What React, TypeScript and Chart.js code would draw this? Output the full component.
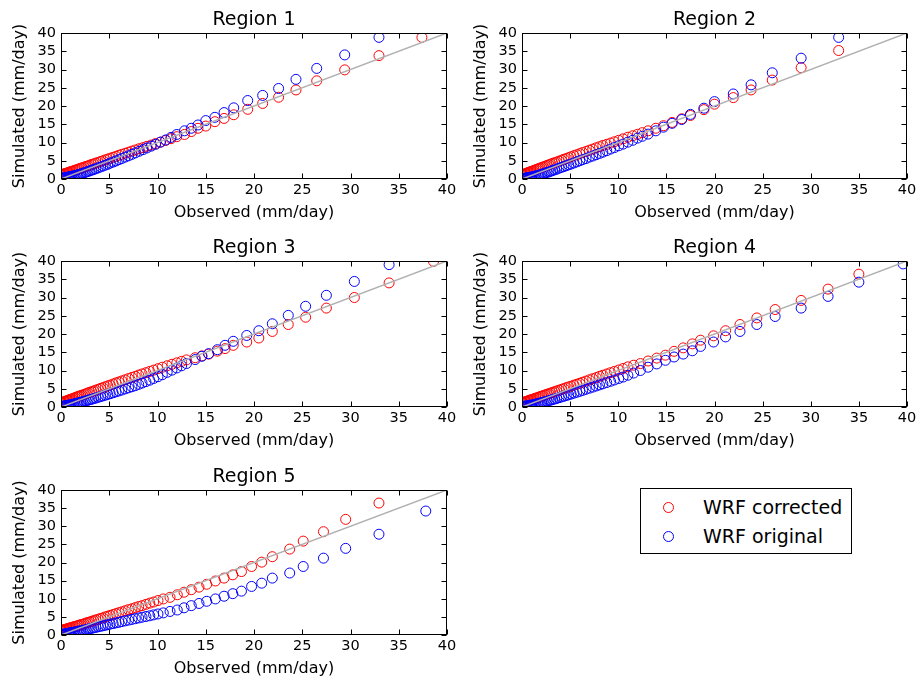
import React, { useEffect, useRef } from "react";
import { Chart, registerables } from "chart.js";

Chart.register(...registerables);

const FONT = "'DejaVu Sans', 'Liberation Sans', sans-serif";

// ---------- data ----------
const axisMin = 0;
const axisMax = 40;
const tickStep = 5;
const refLineX = [0, 40];
const refLineY = [0, 40];

const seriesLabels = ["WRF corrected", "WRF original"];
const regionTitles = ["Region 1", "Region 2", "Region 3", "Region 4", "Region 5"];

// observed quantiles shared by the low (dense) part of regions 2-5
const lowObs = [0, 0.05, 0.1, 0.2, 0.3, 0.4, 0.5, 0.6, 0.7, 0.8, 0.9, 1.0, 1.15, 1.3, 1.45, 1.6, 1.75, 1.9, 2.05, 2.2, 2.4, 2.6, 2.8, 3.0, 3.2, 3.4, 3.6, 3.85, 4.1, 4.35, 4.6, 4.85, 5.1, 5.4, 5.7, 6.0, 6.3, 6.65, 7.0, 7.35, 7.7];

// Region 1
const r1Obs = [0, 0.05, 0.1, 0.2, 0.3, 0.4, 0.5, 0.6, 0.7, 0.8, 0.9, 1.0, 1.15, 1.3, 1.45, 1.6, 1.75, 1.9, 2.05, 2.2, 2.4, 2.6, 2.8, 3.0, 3.2, 3.4, 3.6, 3.85, 4.1, 4.35, 4.6, 4.85, 5.1, 5.4, 5.7, 6.0, 6.3, 6.65, 7.0, 7.35, 7.7, 8.1, 8.5, 8.9, 9.35, 9.8, 10.3, 10.85, 11.4, 12.0, 12.8, 13.5, 14.2, 15.0, 15.95, 16.9, 17.9, 19.35, 20.9, 22.55, 24.35, 26.5, 29.4, 32.95, 37.4];
const r1Corrected = [1.1, 1.15, 1.2, 1.3, 1.35, 1.45, 1.55, 1.6, 1.7, 1.8, 1.9, 2.0, 2.1, 2.25, 2.4, 2.5, 2.65, 2.8, 2.95, 3.05, 3.25, 3.45, 3.6, 3.8, 4.0, 4.15, 4.35, 4.55, 4.8, 5.0, 5.25, 5.45, 5.7, 5.95, 6.2, 6.5, 6.75, 7.05, 7.35, 7.65, 7.95, 8.3, 8.6, 8.95, 9.3, 9.7, 10.1, 10.55, 11.05, 11.6, 12.2, 13.0, 13.9, 14.5, 15.7, 16.6, 17.6, 19.1, 20.7, 22.4, 24.4, 26.9, 29.9, 33.8, 38.8];
const r1Original = [0.1, 0.15, 0.2, 0.25, 0.3, 0.35, 0.4, 0.45, 0.5, 0.55, 0.6, 0.65, 0.75, 0.85, 0.95, 1.05, 1.15, 1.3, 1.4, 1.55, 1.7, 1.9, 2.05, 2.25, 2.45, 2.6, 2.8, 3.05, 3.3, 3.55, 3.8, 4.05, 4.35, 4.65, 4.95, 5.3, 5.6, 6.0, 6.35, 6.75, 7.15, 7.6, 8.05, 8.5, 9.0, 9.5, 10.1, 10.7, 11.4, 12.2, 13.2, 13.9, 14.8, 16.0, 16.9, 18.2, 19.5, 21.5, 22.9, 24.8, 27.3, 30.3, 34.0, 38.8, null];

// Region 2
const r2Obs = [...lowObs, 8.05, 8.4, 8.8, 9.2, 9.6, 10.05, 10.5, 11.0, 11.5, 12.0, 12.5, 13.1, 13.9, 14.7, 15.6, 16.6, 17.5, 18.9, 20.0, 21.95, 23.8, 26.0, 29.0, 32.9];
const r2Corrected = [1.1, 1.15, 1.2, 1.3, 1.4, 1.5, 1.6, 1.7, 1.8, 1.9, 2.0, 2.1, 2.25, 2.4, 2.55, 2.7, 2.85, 3.0, 3.15, 3.3, 3.5, 3.7, 3.9, 4.1, 4.3, 4.45, 4.65, 4.9, 5.15, 5.4, 5.6, 5.85, 6.1, 6.4, 6.65, 6.95, 7.25, 7.55, 7.9, 8.2, 8.55, 8.85, 9.2, 9.5, 9.85, 10.2, 10.6, 11.0, 11.45, 11.85, 12.25, 12.7, 13.2, 13.9, 14.6, 15.5, 16.5, 17.4, 19.0, 20.5, 22.3, 24.4, 27.1, 30.5, 35.2];
const r2Original = [0.0, 0.05, 0.1, 0.15, 0.2, 0.25, 0.3, 0.35, 0.4, 0.45, 0.5, 0.55, 0.65, 0.75, 0.85, 0.95, 1.05, 1.2, 1.3, 1.45, 1.6, 1.8, 1.95, 2.15, 2.35, 2.5, 2.7, 2.95, 3.2, 3.4, 3.65, 3.9, 4.1, 4.4, 4.7, 5.0, 5.3, 5.6, 6.0, 6.3, 6.65, 7.0, 7.35, 7.75, 8.2, 8.6, 9.1, 9.55, 10.1, 10.6, 11.2, 11.7, 12.3, 13.2, 14.2, 15.25, 16.3, 17.7, 19.4, 21.2, 23.3, 25.8, 29.1, 33.1, 38.8];

// Region 3
const r3Obs = [...lowObs, 8.05, 8.4, 8.8, 9.2, 9.6, 10.05, 10.5, 11.0, 11.5, 12.0, 12.5, 13.0, 13.9, 14.6, 15.3, 16.2, 17.0, 17.85, 19.25, 20.5, 21.9, 23.55, 25.35, 27.5, 30.4, 34.0, 38.6];
const r3Corrected = [1.1, 1.15, 1.2, 1.3, 1.4, 1.5, 1.6, 1.7, 1.8, 1.9, 2.0, 2.1, 2.25, 2.4, 2.55, 2.7, 2.85, 3.0, 3.1, 3.25, 3.45, 3.65, 3.85, 4.05, 4.2, 4.4, 4.6, 4.85, 5.1, 5.3, 5.55, 5.8, 6.0, 6.3, 6.6, 6.85, 7.15, 7.45, 7.8, 8.1, 8.4, 8.75, 9.05, 9.4, 9.75, 10.1, 10.5, 10.9, 11.3, 11.7, 12.1, 12.5, 12.9, 13.5, 14.0, 14.5, 15.3, 16.0, 16.9, 17.8, 18.9, 20.7, 22.6, 24.6, 27.1, 30.0, 34.0, 39.9];
const r3Original = [0.1, 0.1, 0.15, 0.2, 0.25, 0.3, 0.35, 0.4, 0.45, 0.5, 0.55, 0.6, 0.7, 0.8, 0.9, 1.0, 1.1, 1.2, 1.3, 1.4, 1.55, 1.7, 1.85, 2.0, 2.15, 2.3, 2.45, 2.65, 2.85, 3.05, 3.25, 3.45, 3.65, 3.9, 4.15, 4.4, 4.65, 4.95, 5.25, 5.55, 5.85, 6.2, 6.55, 6.95, 7.35, 7.8, 8.3, 8.85, 9.5, 10.1, 10.7, 11.3, 11.9, 13.0, 13.9, 14.6, 15.7, 16.9, 18.0, 19.6, 20.9, 22.8, 25.1, 27.6, 30.6, 34.4, 39.0, null];

// Region 4
const r4Obs = [...lowObs, 8.05, 8.4, 8.8, 9.2, 9.6, 10.05, 10.5, 11.0, 11.6, 12.3, 13.1, 14.0, 14.9, 15.8, 16.75, 17.7, 18.55, 19.9, 21.15, 22.65, 24.4, 26.3, 29.0, 31.8, 35.0, 39.6];
const r4Corrected = [1.1, 1.15, 1.2, 1.3, 1.4, 1.45, 1.55, 1.65, 1.75, 1.85, 1.95, 2.0, 2.15, 2.3, 2.45, 2.55, 2.7, 2.85, 3.0, 3.1, 3.3, 3.5, 3.65, 3.85, 4.0, 4.2, 4.4, 4.6, 4.85, 5.05, 5.3, 5.5, 5.7, 6.0, 6.25, 6.5, 6.8, 7.1, 7.45, 7.75, 8.05, 8.4, 8.7, 9.05, 9.4, 9.75, 10.15, 10.55, 11.0, 11.45, 11.9, 12.6, 13.4, 14.2, 15.25, 16.2, 17.3, 18.3, 19.5, 20.9, 22.6, 24.4, 26.7, 29.2, 32.3, 36.4, null];
const r4Original = [0.1, 0.1, 0.15, 0.2, 0.2, 0.25, 0.3, 0.35, 0.4, 0.45, 0.5, 0.55, 0.6, 0.7, 0.8, 0.9, 1.0, 1.1, 1.2, 1.3, 1.45, 1.6, 1.75, 1.9, 2.05, 2.2, 2.35, 2.55, 2.75, 2.95, 3.15, 3.35, 3.55, 3.8, 4.05, 4.3, 4.55, 4.85, 5.15, 5.45, 5.75, 6.05, 6.35, 6.7, 7.05, 7.4, 7.8, 8.2, 8.7, 9.3, 10.0, 10.9, 11.8, 12.8, 13.7, 14.5, 15.4, 16.6, 17.8, 19.2, 20.7, 22.6, 24.8, 27.1, 30.3, 34.2, 39.2];

// Region 5
const r5Obs = [...lowObs, 8.05, 8.4, 8.8, 9.2, 9.6, 10.05, 10.6, 11.3, 12.05, 12.75, 13.5, 14.3, 15.1, 16.0, 16.9, 17.8, 18.7, 19.75, 20.8, 21.9, 23.7, 25.1, 27.2, 29.5, 32.95, 37.8];
const r5Corrected = [1.2, 1.25, 1.3, 1.35, 1.45, 1.5, 1.6, 1.65, 1.75, 1.85, 1.9, 2.0, 2.1, 2.25, 2.35, 2.45, 2.6, 2.7, 2.85, 2.95, 3.1, 3.3, 3.45, 3.6, 3.8, 3.95, 4.15, 4.35, 4.55, 4.75, 5.0, 5.2, 5.4, 5.65, 5.9, 6.15, 6.4, 6.7, 7.0, 7.25, 7.55, 7.85, 8.1, 8.45, 8.8, 9.1, 9.5, 9.95, 10.4, 11.1, 11.8, 12.5, 13.2, 14.0, 14.9, 15.7, 16.6, 17.5, 18.9, 20.1, 21.6, 23.7, 25.9, 28.5, 31.9, 36.4, null];
const r5Original = [0.1, 0.1, 0.15, 0.2, 0.25, 0.3, 0.35, 0.4, 0.45, 0.5, 0.55, 0.6, 0.7, 0.75, 0.85, 0.9, 1.0, 1.1, 1.15, 1.25, 1.35, 1.5, 1.6, 1.75, 1.85, 2.0, 2.1, 2.25, 2.4, 2.55, 2.7, 2.85, 3.0, 3.15, 3.35, 3.5, 3.7, 3.9, 4.1, 4.3, 4.5, 4.7, 4.9, 5.1, 5.3, 5.55, 5.8, 6.1, 6.5, 6.9, 7.5, 8.1, 8.7, 9.3, 9.95, 10.7, 11.4, 12.1, 13.4, 14.3, 15.7, 17.1, 18.9, 21.2, 23.9, 27.8, 34.2];

const regionObs = [r1Obs, r2Obs, r3Obs, r4Obs, r5Obs];
const regionCorrected = [r1Corrected, r2Corrected, r3Corrected, r4Corrected, r5Corrected];
const regionOriginal = [r1Original, r2Original, r3Original, r4Original, r5Original];

// ---------- styles / layout ----------
const RED = "#ff0000";
const BLUE = "#0000ff";
const GREY = "#b0b0b0";
const MARKER_R = 5;

const panels = [
  { left: 0, top: 0, padTop: 33, padRight: 14 },
  { left: 461, top: 0, padTop: 33, padRight: 15 },
  { left: 0, top: 228, padTop: 33, padRight: 14 },
  { left: 461, top: 228, padTop: 33, padRight: 15 },
  { left: 0, top: 456, padTop: 34, padRight: 14 },
];

const framePlugin = {
  id: "frameTicks",
  afterDraw(chart: any, _args: any, opts: any) {
    const { ctx, chartArea: a, scales } = chart;
    ctx.save();
    ctx.strokeStyle = "#000";
    ctx.lineWidth = 1;
    const L = Math.round(a.left) + 0.5;
    const T = Math.round(a.top) + 0.5;
    const R = Math.round(a.right) - 0.5;
    const B = Math.round(a.bottom) - 0.5;
    ctx.beginPath();
    const tl = 5;
    scales.x.ticks.forEach((t: any) => {
      const px = Math.round(scales.x.getPixelForValue(t.value)) + 0.5;
      ctx.moveTo(px, B);
      ctx.lineTo(px, B - tl);
      ctx.moveTo(px, T);
      ctx.lineTo(px, T + tl);
    });
    scales.y.ticks.forEach((t: any) => {
      const py = Math.round(scales.y.getPixelForValue(t.value)) + 0.5;
      ctx.moveTo(L, py);
      ctx.lineTo(L + tl, py);
      ctx.moveTo(R, py);
      ctx.lineTo(R - tl, py);
    });
    ctx.stroke();
    ctx.strokeRect(L, T, R - L, B - T);
    ctx.fillStyle = "#000";
    ctx.font = `19px ${FONT}`;
    ctx.textAlign = "center";
    ctx.textBaseline = "alphabetic";
    ctx.fillText(opts.title || "", (a.left + a.right) / 2, a.top - 8);
    ctx.restore();
  },
};

function Panel({ idx }: { idx: number }) {
  const ref = useRef<HTMLCanvasElement | null>(null);
  const p = panels[idx];
  useEffect(() => {
    if (!ref.current) return;
    const obs = regionObs[idx];
    const corr = regionCorrected[idx];
    const orig = regionOriginal[idx];
    const toPts = (ys: (number | null)[]) =>
      obs.map((x, i) => ({ x, y: ys[i] })).filter((d) => d.y !== null && d.y !== undefined);
    const chart = new Chart(ref.current, {
      type: "scatter",
      data: {
        datasets: [
          {
            type: "line",
            label: "1:1",
            data: refLineX.map((x, i) => ({ x, y: refLineY[i] })),
            borderColor: GREY,
            borderWidth: 1.5,
            pointRadius: 0,
            fill: false,
            clip: 0,
          } as any,
          {
            label: seriesLabels[1],
            data: toPts(orig),
            pointStyle: "circle",
            pointRadius: MARKER_R,
            pointBorderWidth: 1,
            borderColor: BLUE,
            backgroundColor: "rgba(0,0,0,0)",
            pointBackgroundColor: "rgba(0,0,0,0)",
            pointBorderColor: BLUE,
            showLine: false,
            clip: 0,
          } as any,
          {
            label: seriesLabels[0],
            data: toPts(corr),
            pointStyle: "circle",
            pointRadius: MARKER_R,
            pointBorderWidth: 1,
            borderColor: RED,
            backgroundColor: "rgba(0,0,0,0)",
            pointBackgroundColor: "rgba(0,0,0,0)",
            pointBorderColor: RED,
            showLine: false,
            clip: 0,
          } as any,
        ],
      },
      options: {
        animation: false,
        responsive: false,
        devicePixelRatio: 1,
        events: [],
        layout: { padding: { top: p.padTop, right: p.padRight, left: 0, bottom: 0 } },
        plugins: {
          legend: { display: false },
          tooltip: { enabled: false },
          title: { display: false },
          frameTicks: { title: regionTitles[idx] },
        } as any,
        scales: {
          x: {
            type: "linear",
            min: axisMin,
            max: axisMax,
            afterFit: (s: any) => {
              s.height = 49;
            },
            grid: { display: false, drawTicks: false },
            border: { display: false },
            ticks: {
              stepSize: tickStep,
              autoSkip: false,
              maxRotation: 0,
              padding: 3,
              color: "#000",
              font: { family: FONT, size: 14.5 },
            },
            title: {
              display: true,
              text: "Observed (mm/day)",
              color: "#000",
              font: { family: FONT, size: 16 },
              padding: { top: 0, bottom: 6 },
            },
          },
          y: {
            type: "linear",
            min: axisMin,
            max: axisMax,
            afterFit: (s: any) => {
              s.width = 61;
            },
            grid: { display: false, drawTicks: false },
            border: { display: false },
            ticks: {
              stepSize: tickStep,
              autoSkip: false,
              padding: 5,
              color: "#000",
              font: { family: FONT, size: 14.5 },
            },
            title: {
              display: true,
              text: "Simulated (mm/day)",
              color: "#000",
              font: { family: FONT, size: 16 },
              padding: { top: 10, bottom: 0 },
            },
          },
        },
      } as any,
      plugins: [framePlugin as any],
    });
    return () => chart.destroy();
  }, [idx]);
  return (
    <canvas
      ref={ref}
      width={461}
      height={228}
      style={{ position: "absolute", left: p.left, top: p.top, width: 461, height: 228 }}
    />
  );
}

function LegendMarker({ color }: { color: string }) {
  return (
    <span
      style={{
        position: "absolute",
        left: 22,
        top: -5,
        width: 9,
        height: 9,
        border: `1px solid ${color}`,
        borderRadius: "50%",
        boxSizing: "content-box",
      }}
    />
  );
}

export default function App() {
  return (
    <div
      style={{
        position: "absolute",
        left: 0,
        top: 0,
        width: 922,
        height: 684,
        overflow: "hidden",
        background: "#fff",
      }}
    >
      {panels.map((_, i) => (
        <Panel key={i} idx={i} />
      ))}
      <div
        style={{
          position: "absolute",
          left: 640,
          top: 488,
          width: 210,
          height: 64,
          border: "1px solid #000",
          background: "#fff",
          fontFamily: FONT,
          fontSize: 19,
          color: "#000",
        }}
      >
        {[
          { label: seriesLabels[0], color: RED, y: 18 },
          { label: seriesLabels[1], color: BLUE, y: 47 },
        ].map((it) => (
          <div key={it.label} style={{ position: "absolute", left: 0, top: it.y, width: "100%", height: 0 }}>
            <LegendMarker color={it.color} />
            <span
              style={{
                position: "absolute",
                left: 62,
                top: -12,
                lineHeight: "24px",
                whiteSpace: "nowrap",
              }}
            >
              {it.label}
            </span>
          </div>
        ))}
      </div>
    </div>
  );
}
